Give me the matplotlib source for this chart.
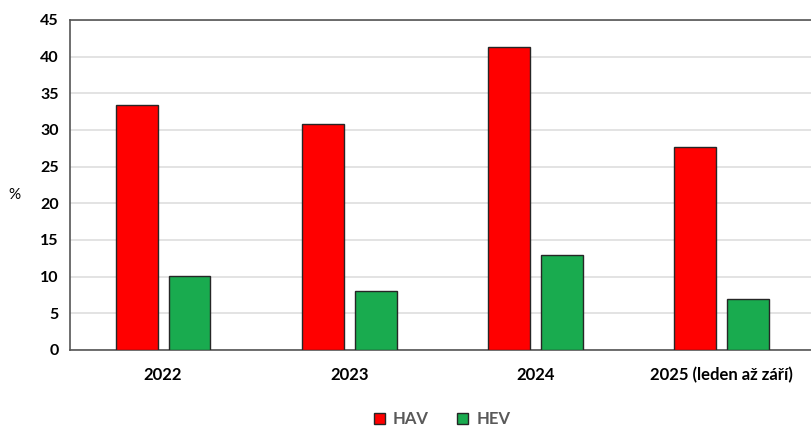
import matplotlib.pyplot as plt
import numpy as np

plt.rcParams['font.family'] = ['Lato', 'DejaVu Sans']

categories = ['2022', '2023', '2024', '2025 (leden až září)']
hav = [33.4, 30.8, 41.3, 27.6]
hev = [10.1, 8.0, 12.9, 6.9]
series_names = ['HAV', 'HEV']
yticks = [0, 5, 10, 15, 20, 25, 30, 35, 40, 45]

fig = plt.figure(figsize=(8.11, 4.32), dpi=100)
ax = fig.add_axes([0.0863, 0.19, 0.918, 0.764])

x = np.arange(len(categories))
w = 0.225
off = 0.142
ax.bar(x - off, hav, w, color='#ff0000', edgecolor='#262626', linewidth=1.0,
       label=series_names[0], zorder=3)
ax.bar(x + off, hev, w, color='#19ab4f', edgecolor='#262626', linewidth=1.0,
       label=series_names[1], zorder=3)

ax.set_xlim(-0.5, len(categories) - 0.5)
ax.set_ylim(0, 45)
ax.set_yticks(yticks)
ax.set_xticks(x)
ax.set_xticklabels(categories, fontsize=12, fontweight='bold')
for lab in ax.get_yticklabels():
    lab.set_fontsize(11.5)
    lab.set_fontweight('bold')
ax.tick_params(length=0, pad=8)
ax.tick_params(axis='x', pad=12)

ax.yaxis.grid(True, color='#dedede', linewidth=1.2, zorder=0)
for s in ['left', 'bottom', 'top']:
    ax.spines[s].set_color('#555555')
    ax.spines[s].set_linewidth(1.2)
ax.spines['right'].set_visible(False)

ax.set_ylabel('%', rotation=0, fontsize=11, va='center', ha='center')
ax.yaxis.set_label_coords(-0.074, 0.47)

leg = fig.legend(loc='center', bbox_to_anchor=(0.545, 0.03), ncol=2, frameon=False,
                 fontsize=12, handlelength=0.65, handleheight=0.65, columnspacing=1.7,
                 handletextpad=0.5)
for t in leg.get_texts():
    t.set_color('#595959')
    t.set_fontweight('bold')

fig.savefig('out.png', dpi=100)
